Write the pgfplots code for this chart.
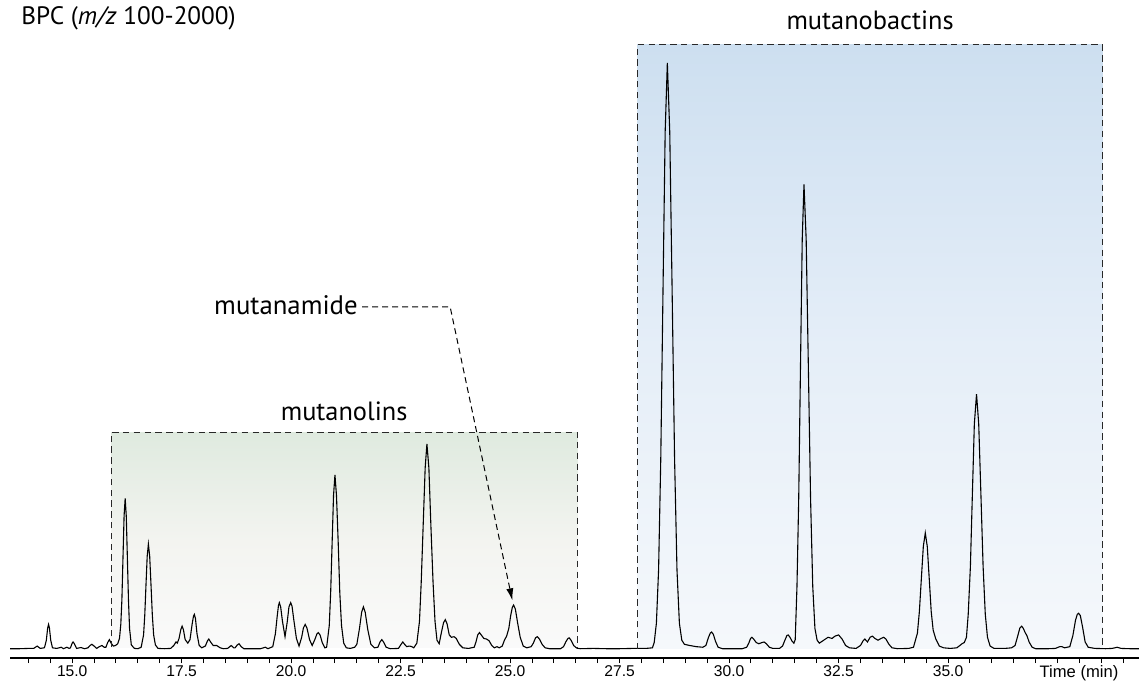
\documentclass[border=0pt]{standalone}
\usepackage{pgfplots}
\pgfplotsset{compat=1.18}
\usetikzlibrary{arrows.meta}
\usepackage{fontspec}
\setmainfont{PT Sans}
\newfontfamily\tickfont{Liberation Sans}

\definecolor{nolinTop}{RGB}{223,234,223}
\definecolor{nolinMid}{RGB}{243,244,240}
\definecolor{nolinBot}{RGB}{250,250,250}
\definecolor{bactTop}{RGB}{205,223,240}
\definecolor{bactMid}{RGB}{229,238,248}
\definecolor{bactBot}{RGB}{245,248,251}
\definecolor{boxline}{RGB}{40,40,40}

\begin{document}
\begin{tikzpicture}
\begin{axis}[
  scale only axis,
  width=564.5bp, height=312.15bp,
  xmin=13.58, xmax=39.36, ymin=-1.536, ymax=105,
  axis x line=bottom, axis y line=none,
  x axis line style={-, line width=0.6bp},
  xtick={15,17.5,...,35},
  xticklabels={15.0,17.5,20.0,22.5,25.0,27.5,30.0,32.5,35.0},
  minor xtick={14,14.5,...,39},
  tick align=outside,
  major tick length=2.6bp, minor tick length=2.6bp,
  every tick/.style={black, line width=0.5bp},
  xticklabel style={font=\tickfont\fontsize{7.8bp}{9bp}\selectfont, inner sep=1bp},
  clip=false,
]
% shaded regions behind the trace
\fill[top color=nolinTop, bottom color=nolinBot, middle color=nolinMid]
  (axis cs:15.89,0.3) rectangle (axis cs:26.54,37.0);
\fill[top color=bactTop, bottom color=bactBot, middle color=bactMid]
  (axis cs:27.9,0.0) rectangle (axis cs:38.53,103.1);

% base peak chromatogram
\addplot[black, line width=0.55bp, mark=none] coordinates {
(13.58,0.05) (13.8,0.05) (14.0,0.1) (14.12,0.1) (14.2,0.5) (14.27,0.1) (14.36,0.2)
(14.37,0.3) (14.41,1.5) (14.44,3.6) (14.46,4.2) (14.48,3.6) (14.51,1.5) (14.55,0.2)
(14.65,0.1) (14.75,0.3) (14.8,0.05) (14.88,0.3) (14.93,0.1)
(14.96,0.2) (15.0,1.0) (15.02,1.2) (15.05,0.9) (15.1,0.1) (15.2,0.25) (15.28,0.05) (15.36,0.2)
(15.41,0.6) (15.45,0.8) (15.5,0.5) (15.56,0.1) (15.62,0.4) (15.68,0.6) (15.73,0.3) (15.77,0.3)
(15.81,1.1) (15.85,1.6) (15.89,1.0) (15.94,0.5) (15.99,0.6)
(16.04,0.9) (16.08,1.8) (16.11,4.2) (16.135,8.4) (16.16,15.6) (16.185,22.7) (16.21,25.7)
(16.235,22.7) (16.26,15.6) (16.285,8.4) (16.31,3.5) (16.35,0.7) (16.42,0.1) (16.5,0.05) (16.575,0.3)
(16.63,2.4) (16.6575,5.8) (16.685,10.9) (16.7125,15.8) (16.74,17.9) (16.77,15.8) (16.80,10.9)
(16.83,5.8) (16.86,2.4) (16.9,0.7) (16.96,0.1) (17.1,0.05) (17.25,0.1) (17.32,0.6) (17.37,1.2) (17.4,1.0)
(17.44,1.8) (17.48,3.3) (17.51,3.9) (17.54,3.3) (17.58,1.6) (17.64,1.0)
(17.69,1.6) (17.74,4.3) (17.77,5.6) (17.79,5.9) (17.815,5.2) (17.85,2.6) (17.9,0.6) (17.96,0.2)
(18.04,0.5) (18.09,1.4) (18.12,1.7) (18.16,1.2) (18.22,0.6) (18.3,0.6) (18.38,0.2) (18.45,0.05)
(18.55,0.1) (18.63,0.6) (18.69,0.2) (18.72,0.2) (18.77,0.7) (18.81,0.9) (18.86,0.4) (18.92,0.05)
(19.1,0.05) (19.3,0.05) (19.41,0.3) (19.47,0.05)
(19.58,0.4) (19.64,2.6) (19.68,5.5) (19.71,7.4) (19.73,7.9) (19.76,7.2) (19.8,4.8) (19.86,2.1)
(19.91,4.6) (19.95,7.2) (19.99,7.9) (20.02,7.3) (20.06,5.0) (20.12,1.8) (20.18,0.5)
(20.24,2.0) (20.28,3.6) (20.32,4.2) (20.36,3.6) (20.42,1.6) (20.48,0.6)
(20.54,1.6) (20.59,2.6) (20.62,2.8) (20.66,2.4) (20.71,1.1) (20.77,0.2) (20.81,0.3)
(20.87,4.0) (20.9025,9.7) (20.935,18.0) (20.9675,26.2) (21.0,29.7) (21.035,26.2) (21.075,18.0)
(21.11,9.7) (21.15,4.0) (21.2,1.0) (21.26,0.2) (21.35,0.1) (21.45,0.3)
(21.5,0.8) (21.56,3.5) (21.61,6.3) (21.65,7.2) (21.69,6.3) (21.75,3.3) (21.82,0.8) (21.9,0.2)
(21.98,0.3) (22.03,1.2) (22.07,1.6) (22.11,1.2) (22.17,0.3) (22.26,0.05) (22.45,0.1)
(22.51,0.8) (22.55,1.2) (22.59,0.8) (22.64,0.4) (22.69,0.5) (22.74,0.45) (22.8,0.2)
(22.87,1.0) (22.93,4.7) (22.97,11.4) (23.015,21.2) (23.06,30.9) (23.1,35.0) (23.145,30.9)
(23.19,21.2) (23.24,11.4) (23.285,4.7) (23.33,1.5) (23.38,0.9) (23.43,2.8) (23.48,4.5)
(23.52,5.0) (23.56,4.3) (23.61,2.4) (23.66,2.0) (23.72,2.1) (23.77,1.8) (23.84,0.8) (23.92,0.2)
(24.05,0.1) (24.18,0.3)
(24.22,1.2) (24.26,2.4) (24.3,2.8) (24.35,2.3) (24.4,1.8) (24.46,1.7) (24.52,1.4) (24.58,0.6)
(24.64,0.2) (24.7,0.4) (24.75,0.2) (24.82,0.5) (24.87,1.5) (24.92,2.2)
(24.97,3.5) (25.01,5.6) (25.05,7.1) (25.08,7.5) (25.12,6.8) (25.17,4.5) (25.23,2.0) (25.3,0.5)
(25.38,0.2) (25.48,0.4)
(25.53,1.0) (25.58,1.9) (25.62,2.1) (25.67,1.7) (25.73,0.8) (25.8,0.2) (25.9,0.05) (26.15,0.05) (26.22,0.4)
(26.27,1.2) (26.32,1.8) (26.35,1.9) (26.39,1.5) (26.45,0.6) (26.52,0.15) (26.6,0.05) (26.9,0.1)
(27.2,0.05) (27.5,0.05) (27.8,0.1) (28.1,0.1) (28.25,0.2)
(28.29,1.1) (28.34,4.4) (28.39,13.5) (28.44,32.5) (28.49,60.7) (28.54,88.2) (28.59,100)
(28.645,88.2) (28.70,60.7) (28.755,32.5) (28.81,13.5) (28.865,4.4) (28.92,1.5) (28.98,0.8)
(29.1,0.6) (29.25,0.4) (29.4,0.3)
(29.47,0.6) (29.53,2.0) (29.57,2.7) (29.6,2.9) (29.64,2.5) (29.69,1.3) (29.75,0.3) (29.85,0.05)
(30.1,0.05) (30.3,0.05) (30.4,0.3)
(30.45,1.0) (30.49,1.8) (30.52,2.0) (30.56,1.7) (30.62,1.1) (30.68,0.9) (30.75,1.1) (30.8,1.2)
(30.85,0.9) (30.92,0.3) (31.0,0.1) (31.15,0.1)
(31.22,0.5) (31.28,1.6) (31.32,2.3) (31.35,2.4) (31.39,2.0) (31.44,1.3) (31.48,1.0) (31.51,1.6)
(31.55,10.7) (31.59,25.8) (31.63,48.1) (31.67,69.9) (31.71,79.3) (31.76,69.9) (31.81,48.1)
(31.86,25.8) (31.91,10.7) (31.96,3.5) (32.01,1.5) (32.06,1.0) (32.1,1.2)
(32.18,1.6) (32.26,2.0) (32.35,1.8) (32.42,2.2) (32.5,2.4) (32.58,1.7) (32.66,0.6) (32.75,0.2)
(32.9,0.1) (33.0,0.6) (33.06,1.4) (33.1,1.7) (33.16,1.2) (33.22,2.0) (33.27,2.2) (33.33,1.8)
(33.4,1.5) (33.47,1.8) (33.53,2.0) (33.58,1.7) (33.65,0.8) (33.72,0.2) (33.85,0.05) (34.1,0.1)
(34.21,0.3) (34.30,2.7) (34.345,6.4) (34.39,12.0) (34.435,17.5) (34.48,19.8) (34.525,17.5)
(34.57,12.0) (34.615,6.4) (34.66,3.2) (34.72,1.7) (34.8,0.5) (34.9,0.2) (35.05,0.1) (35.2,0.2)
(35.27,0.6) (35.32,0.9) (35.37,1.1) (35.42,2.0)
(35.46,5.9) (35.51,14.1) (35.555,26.4) (35.60,38.4) (35.65,43.5) (35.70,38.4) (35.75,26.4)
(35.80,14.1) (35.85,5.9) (35.9,2.0) (35.96,0.5) (36.05,0.1) (36.3,0.1) (36.45,0.2)
(36.53,0.6) (36.59,2.2) (36.64,3.6) (36.68,3.9) (36.72,3.5) (36.76,2.8) (36.8,2.3) (36.85,1.2)
(36.92,0.3) (37.0,0.05) (37.3,0.05) (37.45,0.1) (37.55,0.4) (37.6,0.4) (37.66,0.2)
(37.78,0.4) (37.85,2.3) (37.91,4.9) (37.95,5.9) (37.98,6.1) (38.02,5.7) (38.07,3.8) (38.13,1.2)
(38.2,0.3) (38.35,0.1) (38.6,0.05) (38.75,0.1) (38.86,0.3) (38.95,0.1) (39.15,0.05) (39.36,0.05)
};

% dashed outlines of the two compound families
\draw[boxline, line width=0.55bp, dash pattern=on 3.2bp off 2.2bp]
  (axis cs:15.89,0.3) -- (axis cs:15.89,37.0) -- (axis cs:26.54,37.0) -- (axis cs:26.54,0.3);
\draw[boxline, line width=0.55bp, dash pattern=on 3.2bp off 2.2bp]
  (axis cs:27.9,0.0) -- (axis cs:27.9,103.1) -- (axis cs:38.53,103.1) -- (axis cs:38.53,0.0);

% labels
\node[font=\fontsize{13.2bp}{15bp}\selectfont] at (axis cs:21.21,40.6) {mutanolins};
\node[font=\fontsize{13.2bp}{15bp}\selectfont] at (axis cs:33.22,107.3) {mutanobactins};
\node[font=\fontsize{13.4bp}{15bp}\selectfont, anchor=east, inner sep=0pt] at (axis cs:21.53,58.6) {mutanamide};
\draw[black, line width=0.5bp, dash pattern=on 3bp off 2bp, -{Latex[length=6bp,width=3.6bp]}]
  (axis cs:21.62,58.4) -- (axis cs:23.63,58.4) -- (axis cs:25.05,8.3);
\end{axis}

\node[anchor=west, inner sep=0pt, font=\fontsize{12.6bp}{14bp}\selectfont] at (5.5bp,320bp) {BPC (\textit{m/z} 100-2000)};
\node[font=\tickfont\fontsize{8.3bp}{9bp}\selectfont] at (534.5bp,-7.5bp) {Time (min)};

\pgfresetboundingbox
\path[use as bounding box] (-5bp,-12bp) rectangle (564.5bp,329bp);
\end{tikzpicture}
\end{document}
